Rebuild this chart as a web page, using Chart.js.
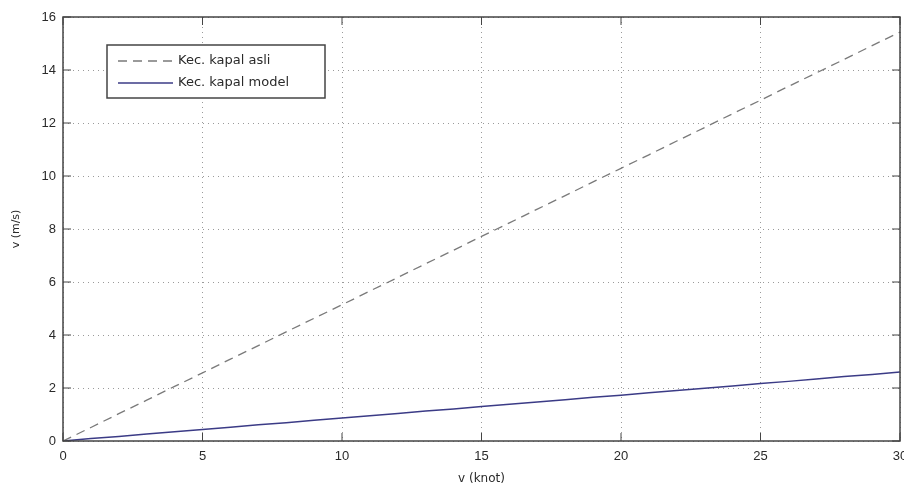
<!DOCTYPE html>
<html>
<head>
<meta charset="utf-8">
<script src="https://cdn.jsdelivr.net/npm/chart.js@4/dist/chart.umd.min.js"></script>
<style>
  html, body { margin: 0; padding: 0; background: #fff; }
  #wrap { width: 904px; height: 490px; }
</style>
</head>
<body>
<div id="wrap"><canvas id="chart" width="904" height="490"></canvas></div>
<script>
"use strict";

// kecepatan (knot)
const knots = [0, 1, 2, 3, 4, 5, 6, 7, 8, 9, 10, 11, 12, 13, 14, 15, 16, 17, 18, 19, 20,
  21, 22, 23, 24, 25, 26, 27, 28, 29, 30];
// m/s
const kapalAsli = [0, 0.51, 1.03, 1.54, 2.06, 2.57, 3.09, 3.60, 4.12, 4.63, 5.14, 5.66, 6.17,
  6.69, 7.20, 7.72, 8.23, 8.75, 9.26, 9.78, 10.29, 10.80, 11.32, 11.83, 12.35, 12.86, 13.38,
  13.89, 14.40, 14.92, 15.43];
const kapalModel = [0, 0.09, 0.17, 0.26, 0.35, 0.43, 0.52, 0.61, 0.69, 0.78, 0.87, 0.95, 1.04,
  1.13, 1.21, 1.30, 1.39, 1.47, 1.56, 1.65, 1.73, 1.82, 1.91, 1.99, 2.08, 2.17, 2.25, 2.34,
  2.43, 2.51, 2.60];
const seriesLabels = ["Kec. kapal asli", "Kec. kapal model"];
const xTicks = [0, 5, 10, 15, 20, 25, 30];
const yTicks = [0, 2, 4, 6, 8, 10, 12, 14, 16];

const font = "Liberation Sans, Arial, sans-serif";
const labelFont = "DejaVu Sans, sans-serif";
const textColor = "#2a2a2a";

// matlab style box, inner ticks and legend inside the axes
const boxPlugin = {
  id: "box",
  afterDraw(chart) {
    const ctx = chart.ctx;
    const a = chart.chartArea;
    const xs = chart.scales.x, ys = chart.scales.y;
    ctx.save();
    ctx.strokeStyle = "#444";
    ctx.lineWidth = 1.5;
    ctx.strokeRect(a.left, a.top, a.right - a.left, a.bottom - a.top);
    ctx.lineWidth = 1;
    ctx.beginPath();
    xTicks.forEach(v => {
      const px = xs.getPixelForValue(v);
      ctx.moveTo(px, a.bottom); ctx.lineTo(px, a.bottom - 8);
      ctx.moveTo(px, a.top); ctx.lineTo(px, a.top + 8);
    });
    yTicks.forEach(v => {
      const py = ys.getPixelForValue(v);
      ctx.moveTo(a.left, py); ctx.lineTo(a.left + 8, py);
      ctx.moveTo(a.right, py); ctx.lineTo(a.right - 8, py);
    });
    ctx.stroke();

    // legend
    const lx = 107, ly = 45, lw = 218, lh = 53;
    ctx.fillStyle = "#fff";
    ctx.fillRect(lx, ly, lw, lh);
    ctx.strokeStyle = "#444";
    ctx.lineWidth = 1.5;
    ctx.strokeRect(lx, ly, lw, lh);
    ctx.font = "13px " + labelFont;
    ctx.textBaseline = "middle";
    chart.data.datasets.forEach((ds, i) => {
      const y = ly + 16 + i * 22;
      ctx.strokeStyle = ds.borderColor;
      ctx.lineWidth = ds.borderWidth;
      ctx.setLineDash(ds.borderDash || []);
      ctx.beginPath();
      ctx.moveTo(lx + 11, y); ctx.lineTo(lx + 66, y);
      ctx.stroke();
      ctx.setLineDash([]);
      ctx.fillStyle = textColor;
      ctx.fillText(ds.label, lx + 71, y);
    });
    ctx.restore();
  }
};

new Chart("chart", {
  type: "line",
  data: {
    datasets: [{
      label: seriesLabels[0],
      data: knots.map((k, i) => ({ x: k, y: kapalAsli[i] })),
      borderColor: "#7a7a7a",
      borderWidth: 1.3,
      borderDash: [9, 6],
      pointRadius: 0,
      fill: false
    }, {
      label: seriesLabels[1],
      data: knots.map((k, i) => ({ x: k, y: kapalModel[i] })),
      borderColor: "#3b3b86",
      borderWidth: 1.5,
      pointRadius: 0,
      fill: false
    }]
  },
  options: {
    responsive: false,
    animation: false,
    layout: { padding: { top: 17, right: 4, left: 0, bottom: 0 } },
    plugins: {
      legend: { display: false },
      tooltip: { enabled: false }
    },
    scales: {
      x: {
        type: "linear",
        min: 0, max: 30,
        afterBuildTicks: (s) => { s.ticks = xTicks.map(v => ({ value: v })); },
        afterFit: (s) => { s.height = 49; s.paddingRight = 0; s.paddingLeft = 0; },
        grid: { color: "#9a9a9a", lineWidth: 1, drawTicks: false },
        border: { display: false, dash: [1, 4] },
        ticks: { color: textColor, font: { family: font, size: 13 }, padding: 8, maxRotation: 0 },
        title: { display: true, text: "v (knot)", color: textColor, font: { family: labelFont, size: 12 }, padding: { top: 4 } }
      },
      y: {
        min: 0, max: 16,
        afterBuildTicks: (s) => { s.ticks = yTicks.map(v => ({ value: v })); },
        afterFit: (s) => { s.width = 63; s.paddingTop = 0; s.paddingBottom = 0; },
        grid: { color: "#9a9a9a", lineWidth: 1, drawTicks: false },
        border: { display: false, dash: [1, 4] },
        ticks: { color: textColor, font: { family: font, size: 13 }, padding: 7 },
        title: { display: true, text: "v (m/s)", color: textColor, font: { family: labelFont, size: 11 }, padding: { top: 10, bottom: 4 } }
      }
    }
  },
  plugins: [boxPlugin]
});
</script>
</body>
</html>
